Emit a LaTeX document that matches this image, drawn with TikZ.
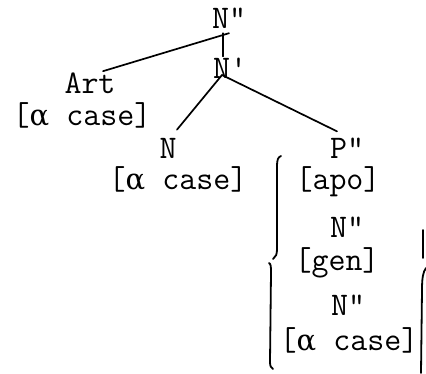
\documentclass[tikz,border=0pt]{standalone}
\usepackage{fontspec}
\newfontfamily\grk{DejaVu Serif}
\usepackage{tikz}
\newcommand{\alp}{{\grk\fontsize{29}{36}\selectfont α}}
\begin{document}
\begin{tikzpicture}[x=1pt,y=-1pt,
  lbl/.style={anchor=base,inner sep=0pt,font=\fontsize{33}{40}\selectfont\ttfamily},
  edge/.style={line width=1.7pt,line cap=round},
  brk/.style={line width=1.8pt,line cap=round,line join=round}]
\useasboundingbox[fill=white] (0,0) rectangle (426,373);
% nodes
\node[lbl] (top) at (229,28) {N\textquotedbl};
\node[lbl] (np)  at (230,78) {N\textquotesingle};
\node[lbl] (art) at (90,93) {Art};
\node[lbl] (artf) at (82,125) {[\alp{} case]};
\node[lbl] (n)   at (168,158) {N};
\node[lbl] (nf)  at (178,189) {[\alp{} case]};
\node[lbl] (p)   at (347,158) {P\textquotedbl};
\node[lbl] (apo) at (338,189) {[apo]};
\node[lbl] (nm)  at (347,237) {N\textquotedbl};
\node[lbl] (gen) at (337,270) {[gen]};
\node[lbl] (nl)  at (348,315) {N\textquotedbl};
\node[lbl] (nlf) at (349,350) {[\alp{} case]};
% connectors
\draw[edge] ([yshift=-5pt]top.south) -- ([xshift=13pt,yshift=1pt]art.north);
\draw[edge] ([xshift=-6pt,yshift=-5pt]top.south) -- ([xshift=-7pt,yshift=1pt]np.north);
\draw[edge] ([xshift=-8pt,yshift=3pt]np.base) -- ([xshift=9pt,yshift=8pt]n.north);
\draw[edge] ([xshift=-8pt,yshift=3pt]np.base) -- ([xshift=-10pt,yshift=6pt]p.north);
% left brace (upper and lower strokes)
\draw[brk] (281,156) .. controls (278,157) and (277,160) .. (277,166)
  -- (277,249) .. controls (277,254) and (276,257) .. (273,259);
\draw[brk] (269,263) .. controls (271,264) and (271,267) .. (271,273)
  -- (270,362) .. controls (270,366) and (271,368) .. (273,369);
% right side strokes
\draw[brk] (423,230) -- (423,258);
\draw[brk] (426,268) .. controls (423,272) and (422,278) .. (422,290) -- (421,373);
\end{tikzpicture}
\end{document}
